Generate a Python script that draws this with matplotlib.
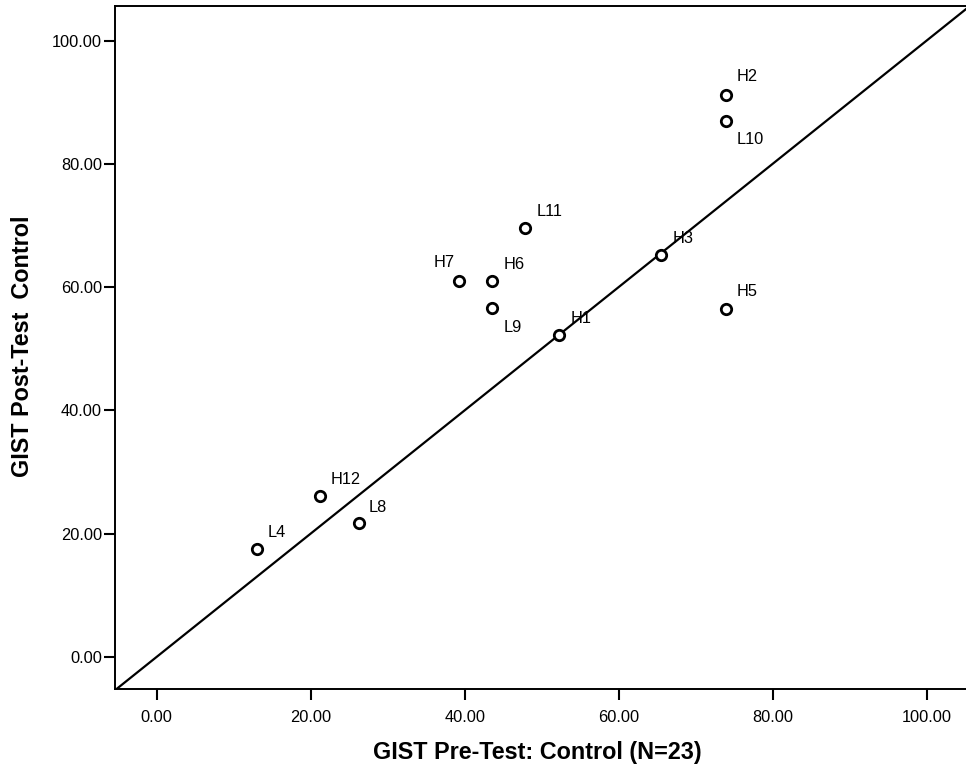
import matplotlib
matplotlib.use("Agg")
import matplotlib.pyplot as plt

plt.rcParams['font.family'] = ['Liberation Sans', 'DejaVu Sans']

labels = ["H2", "L10", "L11", "H7", "H6", "L9", "H1", "H3", "H5", "H12", "L8", "L4"]
pre = [73.9, 73.9, 47.9, 39.3, 43.6, 43.6, 52.3, 65.5, 73.9, 21.2, 26.3, 13.0]
post = [91.2, 86.9, 69.6, 61.0, 61.0, 56.6, 52.2, 65.2, 56.5, 26.1, 21.8, 17.5]
# label offsets in points (dx, dy, ha)
offsets = {
    "H2": (8, 13, "left"), "L10": (8, -13, "left"), "L11": (8, 12, "left"),
    "H7": (-3, 13, "right"), "H6": (8, 12, "left"), "L9": (8, -14, "left"),
    "H1": (8, 12, "left"), "H3": (8, 12, "left"), "H5": (8, 12, "left"),
    "H12": (8, 12, "left"), "L8": (7, 11, "left"), "L4": (8, 12, "left"),
}
ticks = [0, 20, 40, 60, 80, 100]
tick_labels = ["0.00", "20.00", "40.00", "60.00", "80.00", "100.00"]

fig = plt.figure(figsize=(9.66, 7.72), dpi=100)
ax = fig.add_axes([115/966, 83/772, 1 - 115/966, (689 - 6)/772])

xmin, xmax = -5.4, 105.1
ymin, ymax = -5.2, 105.6
ax.set_xlim(xmin, xmax)
ax.set_ylim(ymin, ymax)

ax.plot([xmin, xmax], [xmin, xmax], color='black', lw=1.6, zorder=2)
ax.scatter(pre, post, s=56, facecolors='white', edgecolors='black', linewidths=2.0, zorder=3)

for lab, x, y in zip(labels, pre, post):
    dx, dy, ha = offsets[lab]
    ax.annotate(lab, (x, y), xytext=(dx, dy), textcoords='offset points',
                ha=ha, va='center', fontsize=11.8, color='black')

ax.set_xticks(ticks)
ax.set_xticklabels(tick_labels)
ax.set_yticks(ticks)
ax.set_yticklabels(tick_labels)
ax.tick_params(axis='both', direction='out', length=8, width=1.5, labelsize=11.8, color='black')
ax.tick_params(axis='x', pad=7)
ax.tick_params(axis='y', pad=1.5)

for side in ['left', 'bottom', 'top']:
    ax.spines[side].set_linewidth(1.4)
ax.spines['right'].set_visible(False)

fig.text(537/966, 1 - 752/772, "GIST Pre-Test: Control (N=23)", ha='center', va='center',
         fontsize=16.8, fontweight='bold')
fig.text(23/966, 1 - 346/772, "GIST Post-Test  Control", ha='center', va='center',
         rotation=90, fontsize=16.8, fontweight='bold')

fig.savefig("out.png", dpi=100)
